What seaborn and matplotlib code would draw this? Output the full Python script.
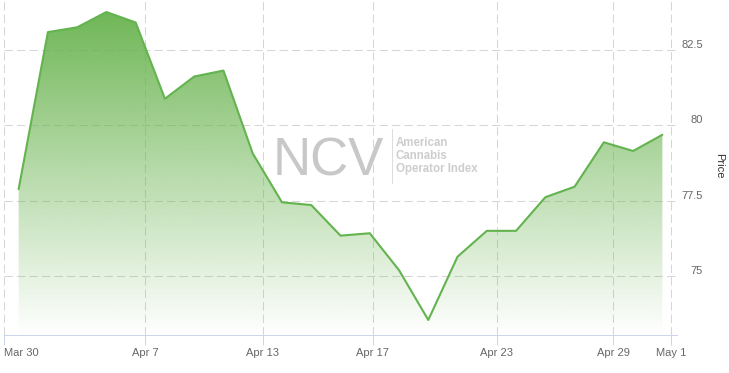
import numpy as np
import matplotlib
matplotlib.use('Agg')
import matplotlib.pyplot as plt
import seaborn as sns
import pandas as pd
from matplotlib.lines import Line2D

# ---- data ----
prices = [77.88, 83.11, 83.27, 83.78, 83.43, 80.89, 81.63, 81.83, 79.07, 77.44,
          77.35, 76.33, 76.41, 75.18, 73.52, 75.63, 76.49, 76.49, 77.61, 77.96,
          79.44, 79.15, 79.69]
x_tick_labels = ['Mar 30', 'Apr 7', 'Apr 13', 'Apr 17', 'Apr 23', 'Apr 29', 'May 1']
x_tick_pos = [-0.5, 4.33, 8.34, 12.10, 16.34, 20.32, 22.31]
y_ticks = [75, 77.5, 80, 82.5]
y_tick_labels = ['75', '77.5', '80', '82.5']

df = pd.DataFrame({'idx': np.arange(len(prices)), 'price': prices})

sns.set_style('white')
plt.rcParams['font.family'] = ['Liberation Sans', 'DejaVu Sans']

W, H = 729, 373
fig = plt.figure(figsize=(W / 100, H / 100), dpi=100)
ax = fig.add_axes([4 / W, 1 - 334.7 / H, 673 / W, 334.7 / H])
XMIN, XMAX = -0.5, 22.5
YMIN, YMAX = 73.03, 84.18

# gradient area fill
poly = ax.fill_between(df['idx'], df['price'], YMIN, color='none', lw=0)
grad = np.zeros((256, 1, 4))
grad[:, :, :3] = np.array([106, 180, 80]) / 255
grad[:, 0, 3] = np.linspace(1.0, 0.0, 256)
im = ax.imshow(grad, extent=[XMIN, XMAX, YMIN, YMAX], origin='upper',
               aspect='auto', zorder=1, interpolation='bilinear')
im.set_clip_path(poly.get_paths()[0], transform=ax.transData)

sns.lineplot(data=df, x='idx', y='price', ax=ax, color='#63b34f', lw=1.5, zorder=3)

ax.set_xlim(XMIN, XMAX)
ax.set_ylim(YMIN, YMAX)
ax.set_xlabel('')
ax.set_ylabel('')

ax.set_xticks(x_tick_pos)
ax.set_xticklabels(x_tick_labels)
ax.set_yticks(y_ticks)
ax.set_yticklabels(y_tick_labels)

ax.set_axisbelow(True)
ax.grid(True, color='#d6d6d6', lw=0.75, linestyle=(0, (8, 4)))

ax.tick_params(axis='x', direction='out', length=7.2, width=0.75, color='#ccd6eb',
               labelsize=8, labelcolor='#666666', pad=2.5, bottom=True)
ax.tick_params(axis='y', length=0, labelsize=8, labelcolor='#666666', pad=18.7,
               left=False, labelleft=False, right=False, labelright=True)
for lab in ax.get_yticklabels():
    lab.set_ha('right')
    lab.set_va('bottom')
ax.get_xticklabels()[0].set_ha('left')

for s in ['top', 'left', 'right']:
    ax.spines[s].set_visible(False)
ax.spines['bottom'].set_color('#ccd6eb')
ax.spines['bottom'].set_linewidth(0.75)

# watermark
fig.text(273 / W, 1 - 175 / H, 'NCV', fontsize=38, color='#c8c8c8',
         ha='left', va='baseline')
fig.add_artist(Line2D([391.7 / W, 391.7 / W], [1 - 129 / H, 1 - 183 / H],
                      transform=fig.transFigure, color='#dddddd', lw=0.75))
for txt, yb in [('American', 146), ('Cannabis', 159), ('Operator Index', 172)]:
    fig.text(396 / W, 1 - yb / H, txt, fontsize=8.3, fontweight='bold',
             color='#cdcdcd', ha='left', va='baseline')

fig.text(719 / W, 1 - 166 / H, 'Price', rotation=270, ha='center', va='center',
         fontsize=8, color='#333333')

fig.savefig('out.png', dpi=100)
